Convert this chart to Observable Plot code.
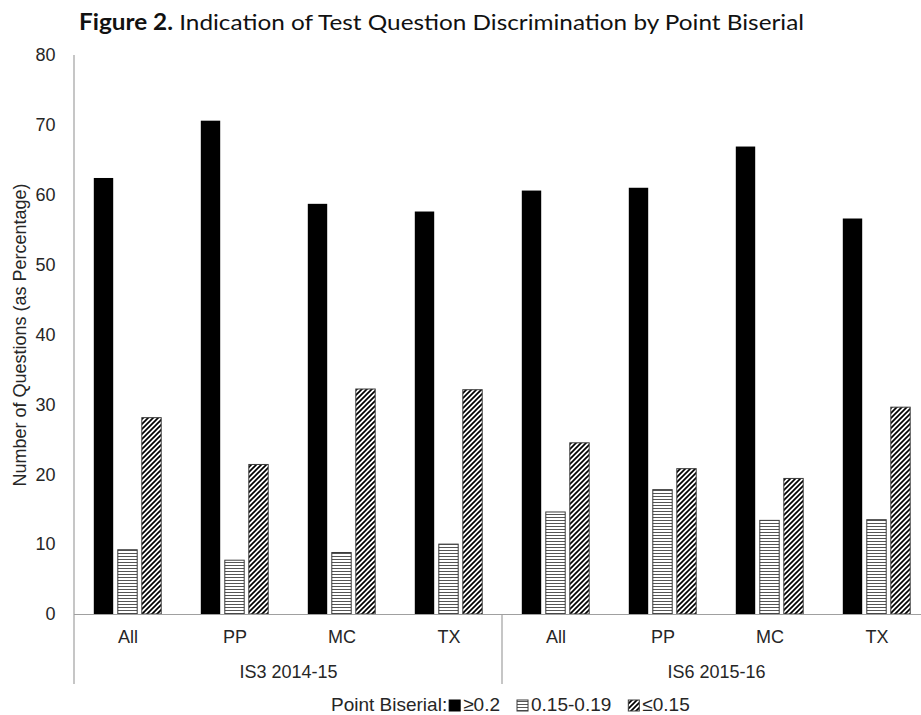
<!DOCTYPE html>
<html><head><meta charset="utf-8">
<script src="https://cdn.jsdelivr.net/npm/d3@7"></script>
<script src="https://cdn.jsdelivr.net/npm/@observablehq/plot@0.6"></script>
<style>
body{margin:0;background:#fff;width:921px;height:715px;overflow:hidden;font-family:"Liberation Sans",Arial,sans-serif;}
#title svg,#chart svg,#legend svg{display:block}
</style></head><body>
<svg width="0" height="0" style="position:absolute">
 <defs>
  <pattern id="hstripe" patternUnits="userSpaceOnUse" width="6" height="3">
    <rect width="6" height="3" fill="#fff"/>
    <line x1="0" y1="0.5" x2="6" y2="0.5" stroke="#555" stroke-width="1"/>
  </pattern>
  <pattern id="dhatch" patternUnits="userSpaceOnUse" width="5" height="5">
    <rect width="5" height="5" fill="#fff"/>
    <path d="M-1,1 L1,-1 M0,5 L5,0 M4,6 L6,4" stroke="#000" stroke-width="1.7"/>
  </pattern>
 </defs>
</svg>
<div id="title"></div>
<div id="chart"></div>
<div id="legend"></div>
<script>
// ---- data ----
const titleBold = "Figure 2.";
const titleRest = " Indication of Test Question Discrimination by Point Biserial";
const yTitle = "Number of Questions (as Percentage)";
const groups = ["IS3 2014-15", "IS6 2015-16"];
const subcats = ["All", "PP", "MC", "TX"];
const yTicks = [0, 10, 20, 30, 40, 50, 60, 70, 80];
const legendTitle = "Point Biserial:";
const seriesNames = ["≥0.2", "0.15-0.19", "≤0.15"];
const high = [62.4, 70.6, 58.7, 57.6, 60.6, 61.0, 66.9, 56.6];
const mid  = [9.2, 7.7, 8.8, 10.0, 14.6, 17.8, 13.4, 13.5];
const low  = [28.1, 21.4, 32.2, 32.1, 24.5, 20.8, 19.4, 29.6];

const rows = high.map((v, i) => ({
  group: groups[Math.floor(i / subcats.length)],
  sub: subcats[i % subcats.length],
  high: v, mid: mid[i], low: low[i]
}));

// ---- title ----
const tsvg = d3.select("#title").append("svg").attr("width", 921).attr("height", 40);
const tt = tsvg.append("text").attr("x", 79).attr("y", 30)
  .attr("fill", "#111").style("font-family", "Lato, 'Open Sans', sans-serif").style("font-size", "22px")
  .attr("textLength", 725).attr("lengthAdjust", "spacingAndGlyphs");
tt.append("tspan").attr("font-weight", "bold").text(titleBold);
tt.append("tspan").text(titleRest);

// ---- chart ----
const font = "'Liberation Sans', Arial, sans-serif";
const chart = Plot.plot({
  width: 921, height: 652,
  marginTop: 15, marginBottom: 78, marginLeft: 73, marginRight: 0,
  style: {fontFamily: font, fontSize: "18px", color: "#262626", background: "transparent"},
  fx: {domain: groups, range: [73, 930], padding: 0, axis: "bottom", tickSize: 0, tickPadding: 51, label: null},
  x: {domain: subcats, padding: 0, tickSize: 0, tickPadding: 16, label: null},
  y: {domain: [0, 80], ticks: yTicks, tickSize: 0, tickPadding: 19, label: yTitle,
      labelAnchor: "center", labelArrow: "none", labelOffset: 61},
  marks: [
    Plot.barY(rows, {fx: "group", x: "sub", y: "high", fill: "#000", insetLeft: 19.8, insetRight: 67.8}),
    Plot.barY(rows, {fx: "group", x: "sub", y: "mid", fill: "url(#hstripe)", stroke: "#3c3c3c", strokeWidth: 1, insetLeft: 43.8, insetRight: 43.8}),
    Plot.barY(rows, {fx: "group", x: "sub", y: "low", fill: "url(#dhatch)", stroke: "#3c3c3c", strokeWidth: 1, insetLeft: 67.8, insetRight: 19.8}),
    Plot.ruleY([0], {stroke: "#a0a0a0", strokeWidth: 1.2})
  ]
});
document.getElementById("chart").appendChild(chart);

// axis line and category dividers drawn from the plot's own scales
const fxS = chart.scale("fx"), yS = chart.scale("y");
const edges = groups.map(g => fxS.apply(g)).concat([fxS.apply(groups[groups.length - 1]) + fxS.bandwidth]);
const sv = d3.select(chart);
const y0 = yS.apply(0), yTop = yS.apply(yTicks[yTicks.length - 1]);
const divDepth = 70;
sv.append("line").attr("x1", edges[0]).attr("x2", edges[0]).attr("y1", yTop).attr("y2", y0 + divDepth)
  .attr("stroke", "#a0a0a0").attr("stroke-width", 1.2);
edges.slice(1).forEach(e => sv.append("line").attr("x1", e).attr("x2", e).attr("y1", y0).attr("y2", y0 + divDepth)
  .attr("stroke", "#a0a0a0").attr("stroke-width", 1.2));

// ---- legend ----
const lsvg = d3.select("#legend").append("svg").attr("width", 921).attr("height", 23)
  .style("font-family", font).style("font-size", "19px");
const fills = ["#000", "url(#hstripe)", "url(#dhatch)"];
let lx = 331;
const base = 19;
const lt = lsvg.append("text").attr("x", lx).attr("y", base).attr("fill", "#262626").text(legendTitle);
lx += lt.node().getComputedTextLength() + 2;
seriesNames.forEach((s, i) => {
  lsvg.append("rect").attr("x", lx).attr("y", base - 11).attr("width", 11).attr("height", 11)
    .attr("fill", fills[i]).attr("stroke", i === 0 ? "#000" : "#3c3c3c");
  lx += 14;
  const t = lsvg.append("text").attr("x", lx).attr("y", base).attr("fill", "#262626").text(s);
  lx += t.node().getComputedTextLength() + 17;
});
</script>
</body></html>
